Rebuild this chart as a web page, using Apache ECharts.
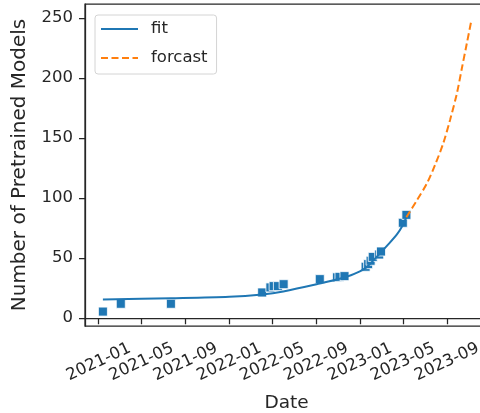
<!doctype html>
<html>
<head>
<meta charset="utf-8">
<script src="https://cdn.jsdelivr.net/npm/echarts@6/dist/echarts.min.js"></script>
<style>
* { margin: 0; padding: 0; }
body { background: #fff; }
#chart { width: 480px; height: 413px; }
</style>
</head>
<body>
<div id="chart"></div>
<script>
// observed models (squares)
var pointDates = ['2021-01-13','2021-03-04','2021-07-22','2022-04-03','2022-04-26','2022-05-05','2022-05-17','2022-06-02',
                  '2022-09-11','2022-10-29','2022-11-05','2022-11-19','2023-01-17','2023-01-24','2023-01-31','2023-02-06',
                  '2023-02-24','2023-03-01','2023-05-01','2023-05-11'];
var pointValues = [5.5, 12, 12, 21.4, 25.6, 26.7, 26.7, 28.3,
                   32.5, 34, 34.4, 35, 42.8, 45, 47.8, 51,
                   53, 55.5, 79.4, 86];

// fitted curve
var fitDates = ['2021-01-13','2021-07-22','2022-01-01','2022-04-03','2022-06-01','2022-09-02','2022-11-16',
                '2023-01-01','2023-01-20','2023-02-20','2023-03-20','2023-04-15','2023-04-30','2023-05-11'];
var fitValues = [15.6, 16.6, 17.8, 19.8, 22.3, 28.2, 33.6,
                 39, 42.5, 52, 61, 70, 77, 84];

// forecast
var forecastDates = ['2023-05-11','2023-06-09','2023-07-07','2023-07-30','2023-08-22','2023-09-10',
                     '2023-09-29','2023-10-13','2023-10-27','2023-11-08'];
var forecastValues = [84, 98, 112, 127.5, 145.6, 165, 187, 208, 229, 247];

// tick labels
var xTicks = ['2021-01','2021-05','2021-09','2022-01','2022-05','2022-09','2023-01','2023-05','2023-09'];
var yTicks = [0, 50, 100, 150, 200, 250];

// 'YYYY-MM[-DD]' -> ms (UTC)
function ms(s) {
	var p = s.split('-');
	return Date.UTC(+p[0], +p[1] - 1, p[2] ? +p[2] : 1);
}
function pairs(xs, ys) {
	return xs.map(function (d, i) { return [ms(d), ys[i]]; });
}
function ym(v) {
	var d = new Date(v);
	var m = d.getUTCMonth() + 1;
	return d.getUTCFullYear() + '-' + (m < 10 ? '0' + m : m);
}

var ink = '#262626';
var font = 'DejaVu Sans';
var xTickMs = xTicks.map(ms);

var chart = echarts.init(document.getElementById('chart'));
chart.setOption({
	animation: false,
	textStyle: { fontFamily: font, color: ink },
	grid: {
		left: 85, top: 4, width: 403, bottom: 87,
		outerBoundsMode: 'none', containLabel: false,
		show: true, borderColor: ink, borderWidth: 1.25, backgroundColor: 'transparent'
	},
	legend: {
		data: ['fit', 'forcast'],
		orient: 'vertical',
		left: 95, top: 15,
		itemWidth: 37, itemHeight: 14, itemGap: 9,
		padding: [4, 9, 6, 5],
		backgroundColor: '#fff',
		borderColor: '#d4d4d4', borderWidth: 1, borderRadius: 3,
		itemStyle: { color: 'transparent', borderWidth: 0, opacity: 0 },
		textStyle: { fontFamily: font, fontSize: 16.5, color: ink, lineHeight: 20, padding: [0, 0, 0, 8] }
	},
	xAxis: {
		type: 'value',
		min: ms('2020-11-24'), max: ms('2023-12-25'),
		name: 'Date', nameLocation: 'middle', nameGap: 68,
		nameTextStyle: { fontFamily: font, fontSize: 18.5, color: ink },
		splitLine: { show: false },
		axisLine: { lineStyle: { color: ink, width: 1.25 } },
		axisTick: { customValues: xTickMs, length: 6, lineStyle: { color: ink, width: 1.25 } },
		axisLabel: {
			customValues: xTickMs,
			rotate: 25, align: 'center', verticalAlign: 'middle', margin: 36,
			fontFamily: font, fontSize: 16.5, color: ink,
			formatter: ym
		}
	},
	yAxis: {
		type: 'value',
		min: -6.5, max: 261.5,
		name: 'Number of Pretrained Models', nameLocation: 'middle', nameGap: 55,
		nameTextStyle: { fontFamily: font, fontSize: 20, color: ink },
		splitLine: { show: false },
		axisLine: { show: true, lineStyle: { color: ink, width: 1.25 } },
		axisTick: { show: true, customValues: yTicks, length: 6, lineStyle: { color: ink, width: 1.25 } },
		axisLabel: { customValues: yTicks, margin: 12, fontFamily: font, fontSize: 16.5, color: ink }
	},
	series: [
		{
			name: 'models', type: 'scatter', symbol: 'rect', symbolSize: 9, z: 1,
			itemStyle: { color: '#1f77b4', borderColor: '#fff', borderWidth: 0.8, opacity: 1 },
			data: pairs(pointDates, pointValues)
		},
		{
			name: 'fit', type: 'line', smooth: 0.3, symbol: 'none', z: 3,
			lineStyle: { color: '#1f77b4', width: 2 },
			itemStyle: { color: '#1f77b4' },
			data: pairs(fitDates, fitValues)
		},
		{
			name: 'forcast', type: 'line', smooth: 0.3, symbol: 'none', z: 3,
			lineStyle: { color: '#ff7f0e', width: 2, type: [7, 3.5] },
			itemStyle: { color: '#ff7f0e' },
			data: pairs(forecastDates, forecastValues)
		}
	]
});
</script>
</body>
</html>
